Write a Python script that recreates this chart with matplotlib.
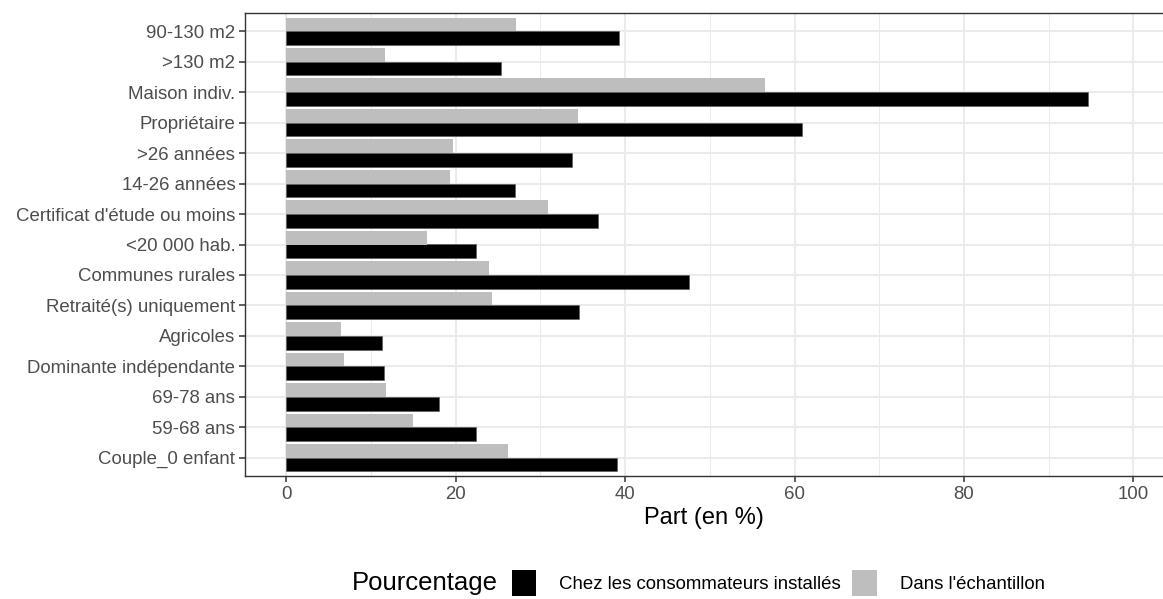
import numpy as np
import matplotlib.pyplot as plt
from matplotlib.patches import Patch

plt.rcParams['font.family'] = ['Liberation Sans', 'DejaVu Sans']

# categories, bottom to top (ggplot order)
categories = ['Couple_0 enfant', '59-68 ans', '69-78 ans', 'Dominante indépendante',
              'Agricoles', 'Retraité(s) uniquement', 'Communes rurales', '<20 000 hab.',
              "Certificat d'étude ou moins", '14-26 années', '>26 années', 'Propriétaire',
              'Maison indiv.', '>130 m2', '90-130 m2']
consommateurs = [39.0, 22.4, 18.0, 11.5, 11.3, 34.5, 47.5, 22.4, 36.8, 27.0, 33.7, 60.9, 94.6, 25.4, 39.3]
echantillon = [26.2, 15.0, 11.8, 6.8, 6.4, 24.3, 23.9, 16.6, 30.9, 19.3, 19.7, 34.4, 56.5, 11.7, 27.1]
series_labels = ['Chez les consommateurs installés', "Dans l'échantillon"]
series_colors = ['black', '#BEBEBE']
xticks = [0, 20, 40, 60, 80, 100]

fig = plt.figure(figsize=(11.63, 5.99), dpi=100)
ax = fig.add_axes([245/1163, 123/599, 918/1163, 463/599])

y = np.arange(len(categories))
h = 0.45
ax.barh(y - h/2, consommateurs, height=h, color=series_colors[0], edgecolor='#555555', linewidth=0.4, zorder=3)
ax.barh(y + h/2, echantillon, height=h, color=series_colors[1], edgecolor='none', zorder=3)

ax.set_xlim(-4.88, 103.5)
ax.set_ylim(-0.6, len(categories) - 0.4)
ax.set_yticks(y)
ax.set_yticklabels(categories)
ax.set_xticks(xticks)
ax.set_xticks([10, 30, 50, 70, 90], minor=True)
ax.grid(which='major', color='#EBEBEB', linewidth=1.4, zorder=0)
ax.grid(which='minor', axis='x', color='#EBEBEB', linewidth=0.7, zorder=0)
ax.tick_params(axis='both', which='major', length=4, width=1.1, color='#333333',
               labelcolor='#4D4D4D', labelsize=13.4, pad=3)
ax.tick_params(axis='both', which='minor', length=0)
for s in ax.spines.values():
    s.set_color('#333333')
    s.set_linewidth(1.0)
ax.spines['right'].set_visible(False)
ax.set_xlabel('Part (en %)', fontsize=17, color='black', labelpad=3)

handles = [Patch(facecolor=c, edgecolor='none') for c in series_colors]
fig.legend(handles, series_labels, loc='center left', bbox_to_anchor=(512/1163, 1 - 583/599),
           ncol=2, frameon=False, fontsize=13.4, handlelength=1.3, handleheight=1.75,
           handletextpad=1.25, columnspacing=0.6, borderpad=0, borderaxespad=0)
fig.text(498/1163, 1 - 583/599, 'Pourcentage', fontsize=18.5, ha='right', va='center')

fig.savefig('out.png', dpi=100)
